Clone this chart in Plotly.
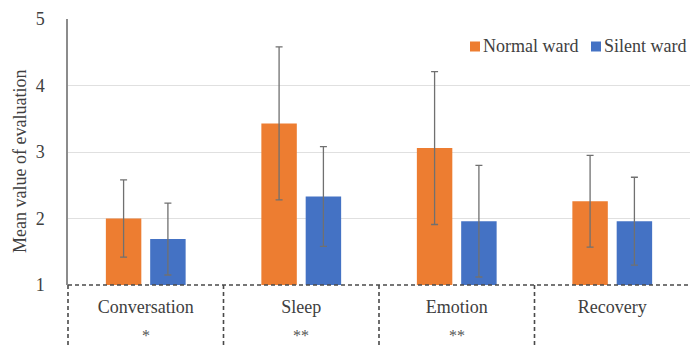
import plotly.graph_objects as go

# Evaluation categories and per-ward means with standard deviations
categories = ["Conversation", "Sleep", "Emotion", "Recovery"]
normal_mean = [2.00, 3.43, 3.06, 2.26]
normal_sd = [0.58, 1.15, 1.15, 0.69]
silent_mean = [1.69, 2.33, 1.96, 1.96]
silent_sd = [0.54, 0.75, 0.84, 0.66]
significance = ["*", "**", "**", ""]
y_ticks = [1, 2, 3, 4, 5]
series_names = ["Normal ward", "Silent ward"]

ORANGE = "#ED7D31"
BLUE = "#4472C4"
ERR = "#707070"
FONT = "Liberation Serif"
TXT = "#404040"

W, H = 690, 347
ML, MR, MT, MB = 68, 0, 19, 62
PW, PH = W - ML - MR, H - MT - MB


def px_x(px):
    return (px - ML) / PW


def px_y(py):
    return (H - MB - py) / PH


fig = go.Figure()
for name, mean, sd, color in zip(series_names, [normal_mean, silent_mean],
                                 [normal_sd, silent_sd], [ORANGE, BLUE]):
    fig.add_trace(go.Bar(
        name=name, x=categories, y=mean, base=0,
        marker=dict(color=color, line_width=0),
        error_y=dict(type="data", array=sd, color=ERR, thickness=1.3, width=3.5),
        showlegend=False,
    ))

# Table-like dashed frame under the plot: baseline and column separators
dash_style = dict(color="#4a4a4a", width=1.6, dash="4px,3px")
fig.add_shape(type="line", xref="paper", yref="paper", x0=0, x1=1, y0=0, y1=0,
              line=dash_style, layer="above")
n = len(categories)
for i in range(n):
    xp = i / n
    fig.add_shape(type="line", xref="paper", yref="paper", x0=xp, x1=xp, y0=0, y1=-0.25,
                  line=dash_style, layer="above")

# Significance marks under each category label
for cat, mark in zip(categories, significance):
    if mark:
        fig.add_annotation(x=cat, y=0, xref="x", yref="paper", yanchor="middle", yshift=-50,
                           text=mark, showarrow=False,
                           font=dict(family=FONT, size=16, color="#555555"))

# Compact legend: colour square followed closely by the series name
legend_slots = [(470, 482), (591, 603)]
for name, color, (sq_x, tx_x) in zip(series_names, [ORANGE, BLUE], legend_slots):
    fig.add_shape(type="rect", xref="paper", yref="paper",
                  x0=px_x(sq_x), x1=px_x(sq_x + 10), y0=px_y(51.5), y1=px_y(41.5),
                  fillcolor=color, line_width=0, layer="above")
    fig.add_annotation(x=px_x(tx_x), y=px_y(46), xref="paper", yref="paper",
                       xanchor="left", yanchor="middle", text=name, showarrow=False,
                       borderpad=0, font=dict(family=FONT, size=18, color=TXT))

# Y axis title
fig.add_annotation(x=px_x(20), y=px_y(162), xref="paper", yref="paper",
                   xanchor="center", yanchor="middle", textangle=-90,
                   text="Mean value of evaluation", showarrow=False,
                   font=dict(family=FONT, size=18, color=TXT))

fig.update_layout(
    width=W, height=H,
    margin=dict(l=ML, r=MR, t=MT, b=MB),
    paper_bgcolor="white", plot_bgcolor="white",
    barmode="group", bargap=0.43, bargroupgap=0.2,
    font=dict(family=FONT, size=18, color=TXT),
    showlegend=False,
)
fig.update_xaxes(
    type="category", range=[-0.5, n - 0.5], showgrid=False, showline=False,
    zeroline=False, ticks="", tickfont=dict(family=FONT, size=18, color=TXT),
    ticklabelstandoff=9,
)
fig.update_yaxes(
    range=[1, 5], tickvals=y_ticks, showgrid=True, gridcolor="#e0e0e0", gridwidth=1,
    zeroline=False, showline=True, linecolor="#8c8c8c", linewidth=1.5,
    ticks="", ticklabelstandoff=18, tickfont=dict(family=FONT, size=18, color=TXT),
)

fig.write_html("out.html")
